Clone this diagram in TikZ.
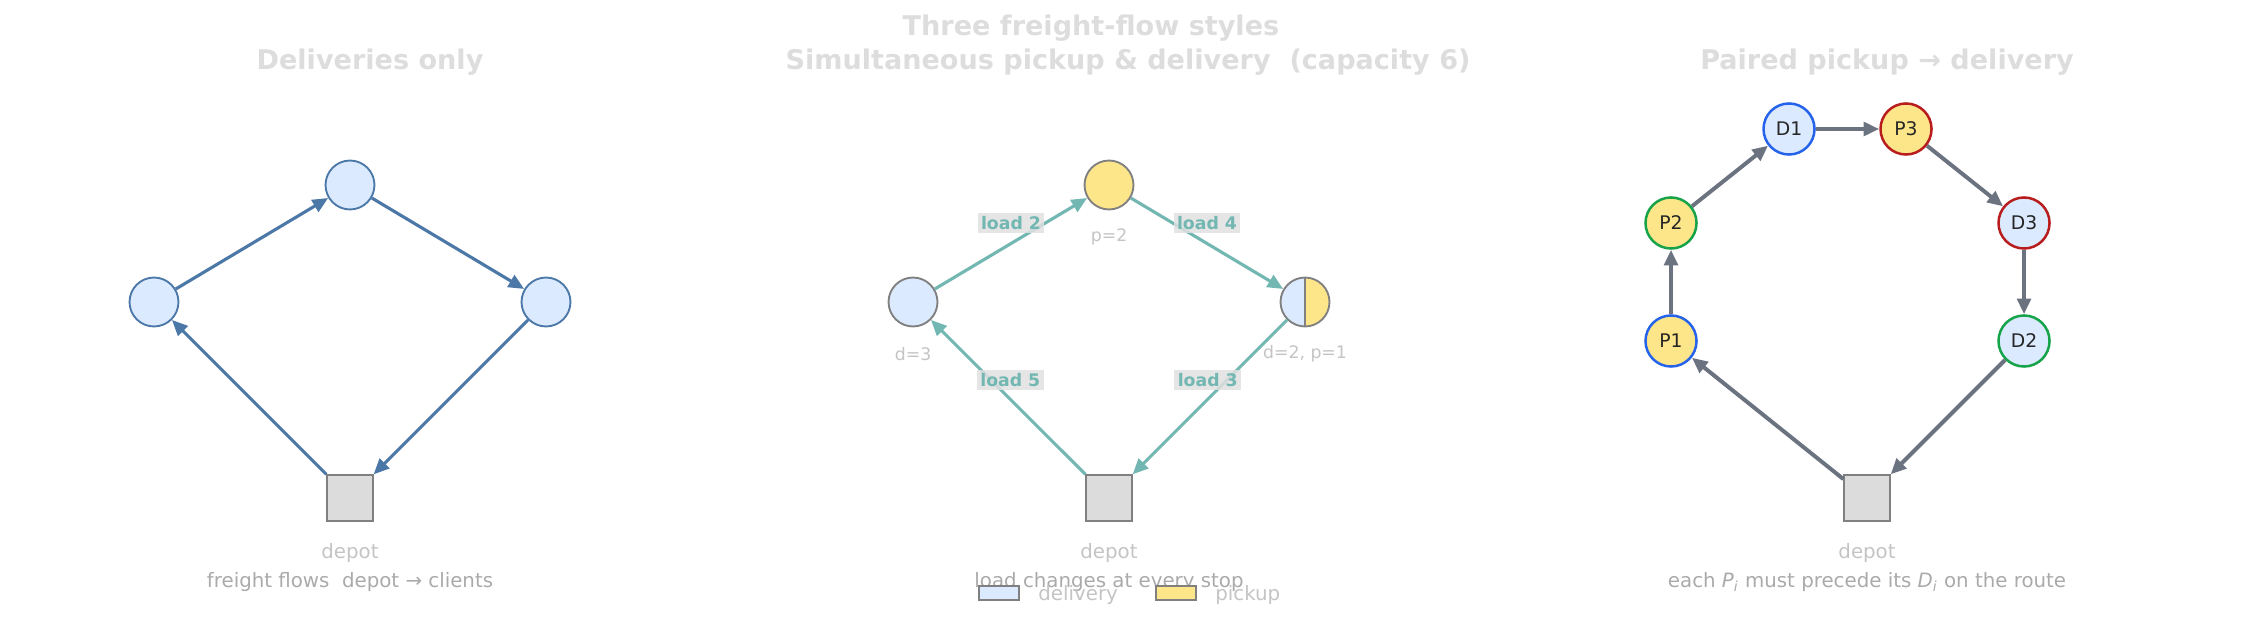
\documentclass[tikz,border=0pt]{standalone}
\usepackage{fontspec}
\setmainfont{DejaVu Sans}
\usetikzlibrary{arrows.meta}

\definecolor{delivfill}{HTML}{DBEAFE}
\definecolor{pickfill}{HTML}{FDE68A}
\definecolor{flowblue}{HTML}{4C78A8}
\definecolor{flowteal}{HTML}{72B7B2}
\definecolor{flowslate}{HTML}{6B7280}
\definecolor{depotfill}{HTML}{DCDCDC}
\definecolor{rimgrey}{HTML}{808080}
\definecolor{titlegrey}{HTML}{DDDDDD}
\definecolor{capgrey}{HTML}{AAAAAA}
\definecolor{notegrey}{HTML}{C4C4C4}
\definecolor{lblbox}{HTML}{E0E0E0}
\definecolor{pairblue}{HTML}{2563EB}
\definecolor{pairgreen}{HTML}{16A34A}
\definecolor{pairred}{HTML}{B91C1C}

\tikzset{
  client/.style={circle, inner sep=0pt, minimum size=23.5pt, line width=0.9pt},
  pairnode/.style={client, minimum size=24.5pt, line width=1.2pt, fill=#1,
                   font=\fontsize{9}{11}\selectfont, text=black!85},
  depotbox/.style={draw=rimgrey, fill=depotfill, minimum size=21.8pt, inner sep=0pt, line width=0.9pt},
  route/.style={line width=1.5pt, -{Triangle[length=7.5pt,width=6.5pt]}},
  ptitle/.style={font=\fontsize{13}{15}\selectfont\bfseries, text=titlegrey},
  capline/.style={font=\fontsize{9.5}{11}\selectfont, text=capgrey},
  depotlbl/.style={font=\fontsize{9.5}{11}\selectfont, text=notegrey},
  amount/.style={font=\fontsize{8.3}{10}\selectfont, text=notegrey},
  loadlbl/.style={font=\fontsize{8.3}{10}\selectfont\bfseries, text=flowteal, fill=lblbox,
                  fill opacity=0.85, text opacity=1, inner sep=1.6pt},
  legbox/.style={draw=rimgrey, minimum width=19pt, minimum height=6.7pt, inner sep=0pt, line width=0.9pt}
}

\begin{document}
\begin{tikzpicture}[x=0.48pt, y=-0.48pt]
    \useasboundingbox (0,0) rectangle (2257,627);

    \node[ptitle] (main) at (1091,28) {Three freight-flow styles};

    % deliveries only
    \node[ptitle] (t1) at (370,62) {Deliveries only};
    \node[depotbox] (a0) at (350,498) {};
    \node[client, draw=flowblue, fill=delivfill] (a1) at (154,302) {};
    \node[client, draw=flowblue, fill=delivfill] (a2) at (350,185) {};
    \node[client, draw=flowblue, fill=delivfill] (a3) at (546,302) {};
    \draw[route, flowblue] (a0) -- (a1);
    \draw[route, flowblue] (a1) -- (a2);
    \draw[route, flowblue] (a2) -- (a3);
    \draw[route, flowblue] (a3) -- (a0);
    \node[depotlbl] (a0l) at (350,553) {depot};
    \node[capline] (c1) at (350,582) {freight flows~~depot → clients};

    % simultaneous pickup and delivery
    \node[ptitle] (t2) at (1128,62) {Simultaneous pickup \& delivery~~(capacity 6)};
    \node[depotbox] (b0) at (1109,498) {};
    \node[client, draw=rimgrey, fill=delivfill] (b1) at (913,302) {};
    \node[client, draw=rimgrey, fill=pickfill] (b2) at (1109,185) {};
    \node[client, draw=rimgrey, path picture={
        \fill[pickfill] (path picture bounding box.north) rectangle (path picture bounding box.south east);
        \fill[delivfill] (path picture bounding box.north west) rectangle (path picture bounding box.south);
        \draw[rimgrey, line width=0.9pt] (path picture bounding box.north) -- (path picture bounding box.south);
      }] (b3) at (1305,302) {};
    \draw[route, flowteal] (b0) -- node[loadlbl, yshift=8.3pt, xshift=1pt] {load 5} (b1);
    \draw[route, flowteal] (b1) -- node[loadlbl, yshift=9.8pt] {load 2} (b2);
    \draw[route, flowteal] (b2) -- node[loadlbl, yshift=9.8pt] {load 4} (b3);
    \draw[route, flowteal] (b3) -- node[loadlbl, yshift=8.3pt, xshift=-1pt] {load 3} (b0);
    \node[amount] (b1l) at (913,354) {d=3};
    \node[amount] (b2l) at (1109,237) {p=2};
    \node[amount] (b3l) at (1305,354) {d=2, p=1};
    \node[depotlbl] (b0l) at (1109,553) {depot};
    \node[capline] (c2) at (1109,582) {load changes at every stop};
    \node[legbox, fill=delivfill] (ld) at (999,593) {};
    \node[depotlbl, anchor=west] (ldt) at (1031,595) {delivery};
    \node[legbox, fill=pickfill] (lp) at (1176,593) {};
    \node[depotlbl, anchor=west] (lpt) at (1208,595) {pickup};

    % paired pickup and delivery
    \node[ptitle] (t3) at (1887,62) {Paired pickup → delivery};
    \node[depotbox] (p0) at (1867,498) {};
    \node[pairnode=pickfill, draw=pairblue] (p1) at (1671,341) {P1};
    \node[pairnode=pickfill, draw=pairgreen] (p2) at (1671,223) {P2};
    \node[pairnode=delivfill, draw=pairblue] (d1) at (1789,129) {D1};
    \node[pairnode=pickfill, draw=pairred] (p3) at (1906,129) {P3};
    \node[pairnode=delivfill, draw=pairred] (d3) at (2024,223) {D3};
    \node[pairnode=delivfill, draw=pairgreen] (d2) at (2024,341) {D2};
    \draw[route, flowslate, line width=1.9pt] (p0) -- (p1);
    \draw[route, flowslate, line width=1.9pt] (p1) -- (p2);
    \draw[route, flowslate, line width=1.9pt] (p2) -- (d1);
    \draw[route, flowslate, line width=1.9pt] (d1) -- (p3);
    \draw[route, flowslate, line width=1.9pt] (p3) -- (d3);
    \draw[route, flowslate, line width=1.9pt] (d3) -- (d2);
    \draw[route, flowslate, line width=1.9pt] (d2) -- (p0);
    \node[depotlbl] (p0l) at (1867,553) {depot};
    \node[capline] (c3) at (1867,582) {each \textit{P\textsubscript{i}} must precede its \textit{D\textsubscript{i}} on the route};
\end{tikzpicture}
\end{document}
